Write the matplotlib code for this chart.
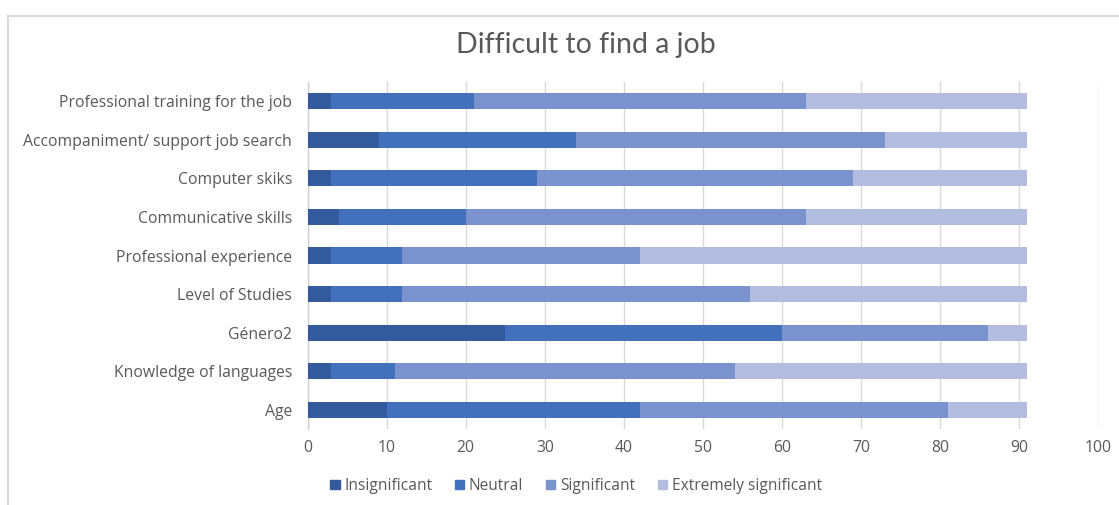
import matplotlib
matplotlib.use("Agg")
import matplotlib.pyplot as plt
from matplotlib.lines import Line2D
import numpy as np

categories = [
    "Professional training for the job",
    "Accompaniment/ support job search",
    "Computer skiks",
    "Communicative skills",
    "Professional experience",
    "Level of Studies",
    "Género2",
    "Knowledge of languages",
    "Age",
]
insignificant = [3, 9, 3, 4, 3, 3, 25, 3, 10]
neutral = [18, 25, 26, 16, 9, 9, 35, 8, 32]
significant = [42, 39, 40, 43, 30, 44, 26, 43, 39]
extremely = [28, 18, 22, 28, 49, 35, 5, 37, 10]
series_names = ["Insignificant", "Neutral", "Significant", "Extremely significant"]
colors = ["#335a9c", "#4270bd", "#7a92cd", "#b2bddf"]
x_ticks = [0, 10, 20, 30, 40, 50, 60, 70, 80, 90, 100]

W, H = 1119, 505
fig = plt.figure(figsize=(W / 100, H / 100), dpi=100)
fig.patch.set_facecolor("white")

left_px, right_px, top_px, bottom_px = 307.5, 1098.5, 81.7, 429.3
ax = fig.add_axes([left_px / W, 1 - bottom_px / H, (right_px - left_px) / W, (bottom_px - top_px) / H])

n = len(categories)
y = np.arange(n)[::-1]
left = np.zeros(n)
for vals, name, c in zip([insignificant, neutral, significant, extremely], series_names, colors):
    vals = np.array(vals, dtype=float)
    ax.barh(y, vals, left=left, height=0.42, color=c, label=name, zorder=3)
    left += vals

ax.set_xlim(0, 100)
ax.set_ylim(-0.5, n - 0.5)
ax.set_xticks(x_ticks)
ax.set_yticks(y)
ax.set_yticklabels(categories)
ax.grid(axis="x", color="#d9d9d9", linewidth=1.0, zorder=0)
ax.set_axisbelow(True)
for s in ["top", "right", "bottom"]:
    ax.spines[s].set_visible(False)
ax.spines["left"].set_color("#d0d0d0")
ax.spines["left"].set_linewidth(1.0)
ax.tick_params(axis="both", length=0, labelcolor="#595959", labelsize=11.3)
ax.tick_params(axis="x", pad=8)
ax.tick_params(axis="y", pad=11)
for lab in ax.get_xticklabels() + ax.get_yticklabels():
    lab.set_fontfamily("Open Sans")

fig.text(586 / W, 1 - 45 / H, "Difficult to find a job", ha="center", va="center",
         fontsize=20.5, color="#595959", fontfamily="Lato")

handles = [plt.Rectangle((0, 0), 1, 1, color=c) for c in colors]
leg = fig.legend(handles, series_names, loc="center", bbox_to_anchor=(576 / W, 1 - 486 / H),
                 ncol=4, frameon=False, handlelength=0.6, handleheight=0.6, handletextpad=0.3,
                 columnspacing=1.45, prop={"family": "Open Sans", "size": 11.2})
for t in leg.get_texts():
    t.set_color("#595959")

# chart border
fig.add_artist(Line2D([8 / W, 1.0], [1 - 16 / H, 1 - 16 / H], transform=fig.transFigure,
                      color="#d9d9d9", linewidth=1.5))
fig.add_artist(Line2D([8 / W, 8 / W], [1 - 16 / H, 0], transform=fig.transFigure,
                      color="#d9d9d9", linewidth=1.5))

fig.savefig("out.png", dpi=100, facecolor="white")
